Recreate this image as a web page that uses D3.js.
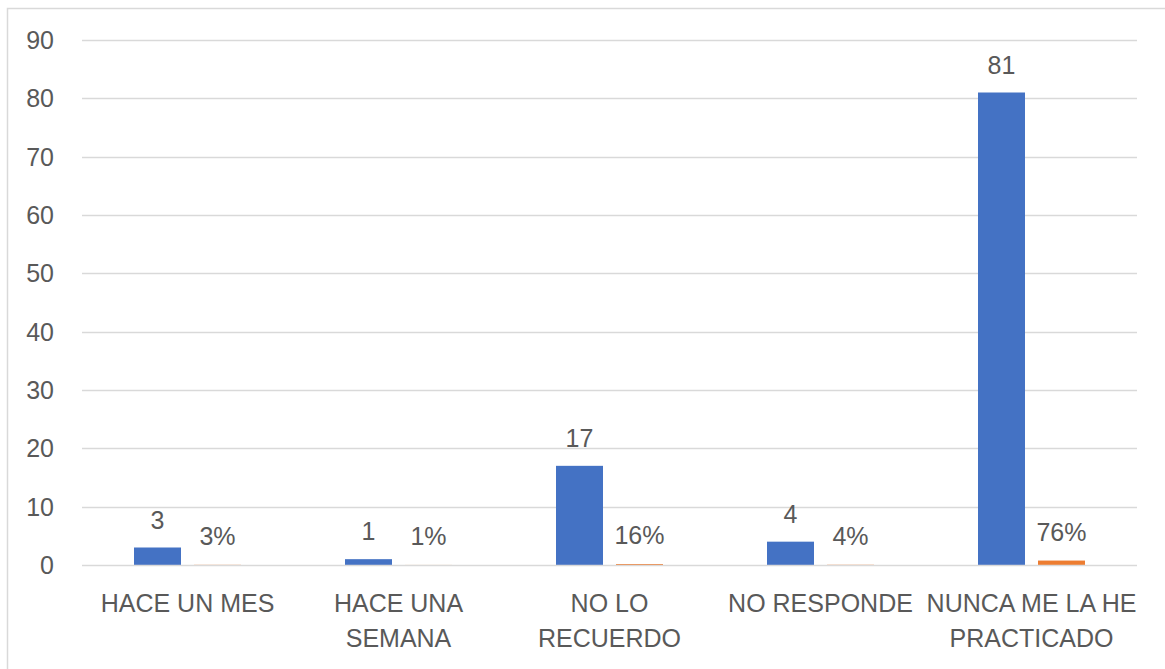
<!DOCTYPE html>
<html>
<head>
<meta charset="utf-8">
<script src="https://cdn.jsdelivr.net/npm/d3@7"></script>
<style>
  html, body { margin: 0; padding: 0; background: #ffffff; }
  svg text { font-family: "Liberation Sans", Arial, sans-serif; fill: #595959; }
</style>
</head>
<body>
<svg id="chart" width="1165" height="669"></svg>
<script>
const categories = ["HACE UN MES", "HACE UNA SEMANA", "NO LO RECUERDO", "NO RESPONDE", "NUNCA ME LA HE PRACTICADO"];
const categoryLines = [["HACE UN MES"], ["HACE UNA", "SEMANA"], ["NO LO", "RECUERDO"], ["NO RESPONDE"], ["NUNCA ME LA HE", "PRACTICADO"]];
const seriesNames = ["Frecuencia", "Porcentaje"];
const counts = [3, 1, 17, 4, 81];
const percents = [0.03, 0.01, 0.16, 0.04, 0.76];
const yTicks = [0, 10, 20, 30, 40, 50, 60, 70, 80, 90];
const colors = ["#4472C4", "#ED7D31"];

const svg = d3.select("#chart");
const W = 1165, H = 669;
const plot = { left: 82, right: 1137, top: 40, bottom: 565 };
const FS = 25;

// outer chart border
svg.append("rect")
  .attr("x", 7.5).attr("y", 8.5)
  .attr("width", W + 10).attr("height", H + 10)
  .attr("fill", "none").attr("stroke", "#d9d9d9").attr("stroke-width", 1.5);

const y = d3.scaleLinear().domain([0, 90]).range([plot.bottom, plot.top]);
const x0 = d3.scaleBand().domain(categories).range([plot.left, plot.right]).paddingInner(0).paddingOuter(0);
const x1 = d3.scaleBand().domain(seriesNames).range([0, x0.bandwidth()])
  .paddingInner(13 / 60).paddingOuter(0.8667);

// gridlines (excluding zero line, drawn after bars)
svg.append("g").selectAll("line").data(yTicks.filter(t => t !== 0)).join("line")
  .attr("x1", plot.left).attr("x2", plot.right)
  .attr("y1", d => Math.round(y(d)) + 0.5).attr("y2", d => Math.round(y(d)) + 0.5)
  .attr("stroke", "#d9d9d9").attr("stroke-width", 1.3);

// y tick labels
svg.append("g").selectAll("text").data(yTicks).join("text")
  .attr("x", 54).attr("y", d => y(d) + 9)
  .attr("text-anchor", "end")
  .attr("font-size", FS)
  .text(d => d);

const rows = categories.map((c, i) => ({ cat: c, vals: [
  { s: seriesNames[0], v: counts[i], label: String(counts[i]), off: 19 },
  { s: seriesNames[1], v: percents[i], label: Math.round(percents[i] * 100) + "%", off: 20 }
]}));

const groups = svg.append("g").selectAll("g").data(rows).join("g")
  .attr("transform", d => `translate(${x0(d.cat)},0)`);

groups.selectAll("rect").data(d => d.vals).join("rect")
  .attr("x", d => x1(d.s))
  .attr("width", x1.bandwidth())
  .attr("y", d => y(d.v))
  .attr("height", d => y(0) - y(d.v))
  .attr("fill", (d, i) => colors[i]);

groups.selectAll("text").data(d => d.vals).join("text")
  .attr("x", d => x1(d.s) + x1.bandwidth() / 2)
  .attr("y", d => y(d.v) - d.off)
  .attr("text-anchor", "middle")
  .attr("font-size", FS)
  .text(d => d.label);

// zero axis line on top of bars
svg.append("line")
  .attr("x1", plot.left).attr("x2", plot.right)
  .attr("y1", Math.round(y(0)) + 0.5).attr("y2", Math.round(y(0)) + 0.5)
  .attr("stroke", "#d9d9d9").attr("stroke-width", 1.3);

// x category labels
const xl = svg.append("g").selectAll("text").data(categories).join("text")
  .attr("text-anchor", "middle")
  .attr("font-size", FS);
xl.each(function(c, i) {
  const t = d3.select(this);
  categoryLines[i].forEach((line, j) => {
    t.append("tspan")
      .attr("x", x0(c) + x0.bandwidth() / 2)
      .attr("y", 612 + j * 35)
      .text(line);
  });
});
</script>
</body>
</html>
